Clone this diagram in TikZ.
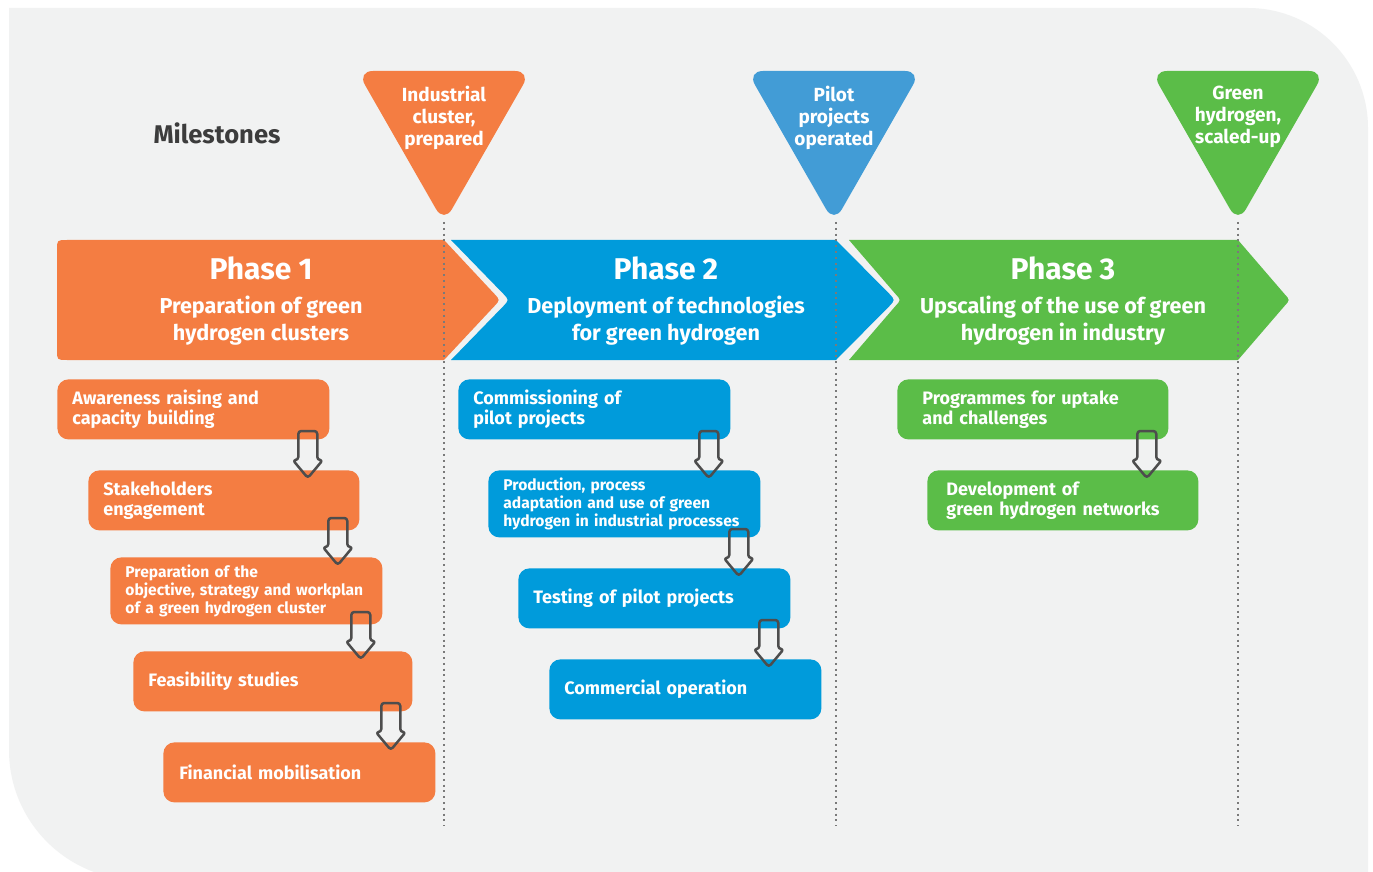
\documentclass[tikz,border=0pt]{standalone}
\usepackage{fontspec}
\setmainfont{Fira Sans}
\usetikzlibrary{calc}
\definecolor{bg}{HTML}{F1F2F2}
\definecolor{orng}{HTML}{F47D42}
\definecolor{blu}{HTML}{009BDB}
\definecolor{blum}{HTML}{429CD6}
\definecolor{grn}{HTML}{5BBD48}
\definecolor{dotc}{HTML}{7A7A7A}
\definecolor{arrc}{HTML}{4D4D4D}
\definecolor{darktxt}{HTML}{3C3C3C}
\newcommand\blkarrow[2]{%
  \begin{scope}[shift={($(#1.east |- #2.north)+(-22,8)$)}]
    \draw[blkarr] (-9.5,-47) -- (-9.5,-18) -- (-15,-18) -- (0,0) -- (15,-18) -- (9.5,-18) -- (9.5,-47) -- cycle;
  \end{scope}}
\begin{document}
\begin{tikzpicture}[x=0.5pt,y=-0.5pt,
  box/.style={rounded corners=5.5pt, anchor=north west, minimum height=30pt, text width=121pt,
    inner xsep=7.5pt, inner ysep=0pt, align=left, text=white,
    font=\bfseries\fontsize{9}{10}\selectfont},
  smallbox/.style={box, minimum height=33.5pt, font=\bfseries\fontsize{7.8}{9}\selectfont},
  phtitle/.style={text=white, font=\bfseries\fontsize{15}{18}\selectfont, inner sep=0pt},
  phsub/.style={text=white, align=center, font=\bfseries\fontsize{10.8}{13.5}\selectfont, inner sep=0pt},
  mtxt/.style={text=white, align=center, font=\bfseries\fontsize{9.5}{11}\selectfont, inner sep=0pt},
  dotline/.style={dotc, line width=1pt, dash pattern=on 1pt off 1.9pt},
  blkarr/.style={arrc, line width=1.25pt, rounded corners=1.5pt, line join=round}]
\useasboundingbox (0,0) rectangle (1373,872);
\fill[white] (0,0) rectangle (1373,872);
\begin{scope}
\clip (0,0) rectangle (1373,872);
\fill[bg] (9,8) -- (1248,8) .. controls (1314.3,8) and (1368,61.7) .. (1368,128)
  -- (1368,880) -- (139,880) .. controls (67.2,880) and (9,821.8) .. (9,750) -- cycle;
\end{scope}

% title
\node[text=darktxt, font=\bfseries\fontsize{12.8}{15}\selectfont, inner sep=0pt] (ms) at (217,133) {Milestones};

% milestone triangles
\fill[orng, rounded corners=8pt] (357,71) -- (531,71) -- (444,223) -- cycle;
\fill[blum, rounded corners=8pt] (747,71) -- (921,71) -- (834,223) -- cycle;
\fill[grn, rounded corners=8pt] (1151,71) -- (1325,71) -- (1238,223) -- cycle;
\node[mtxt] (m1) at (444,118) {Industrial\\cluster,\\prepared};
\node[mtxt] (m2) at (834,118) {Pilot\\projects\\operated};
\node[mtxt] (m3) at (1238,117) {Green\\hydrogen,\\scaled-up};

% phase chevrons
\fill[orng] (444,240) -- (494.5,294) .. controls (500,300) .. (494.5,306) -- (444,360)
  -- (67,360) .. controls (57,360) .. (57,350) -- (57,250) .. controls (57,240) .. (67,240) -- cycle;
\fill[blu] (451,240) -- (836,240) -- (889.5,294) .. controls (895,300) .. (889.5,306) -- (836,360)
  -- (451,360) -- (503.5,306) .. controls (509,300) .. (503.5,294) -- cycle;
\fill[grn] (849,240) -- (1238,240) -- (1284.5,294) .. controls (1290,300) .. (1284.5,306) -- (1238,360)
  -- (849,360) -- (895.5,306) .. controls (901,300) .. (895.5,294) -- cycle;

\node[phtitle] (p1) at (261,268) {Phase 1};
\node[phsub] (p1s) at (261,321) {Preparation of green\\hydrogen clusters};
\node[phtitle] (p2) at (666,268) {Phase 2};
\node[phsub] (p2s) at (666,321) {Deployment of technologies\\for green hydrogen};
\node[phtitle] (p3) at (1063,268) {Phase 3};
\node[phsub] (p3s) at (1063,321) {Upscaling of the use of green\\hydrogen in industry};

% phase 1 boxes
\node[box, fill=orng] (o1) at (57,379) {Awareness raising and\\capacity building};
\node[box, fill=orng, text width=120.5pt] (o2) at (88,470) {Stakeholders\\engagement};
\node[smallbox, fill=orng] (o3) at (110,557) {Preparation of the\\objective, strategy and workplan\\of a green hydrogen cluster};
\node[box, fill=orng, text width=124.5pt] (o4) at (133,651) {Feasibility studies};
\node[box, fill=orng, inner xsep=8pt, text width=120pt] (o5) at (163,742) {Financial mobilisation};

% phase 2 boxes
\node[box, fill=blu] (b1) at (458,379) {Commissioning of\\pilot projects};
\node[smallbox, fill=blu] (b2) at (488,470) {Production, process\\adaptation and use of green\\hydrogen in industrial processes};
\node[box, fill=blu] (b3) at (518,568) {Testing of pilot projects};
\node[box, fill=blu] (b4) at (549,659) {Commercial operation};

% phase 3 boxes
\node[box, fill=grn, inner xsep=12.5pt, text width=110.5pt] (g1) at (897,379) {Programmes for uptake\\and challenges};
\node[box, fill=grn, inner xsep=9.5pt, text width=116.5pt] (g2) at (927,470) {Development of\\green hydrogen networks};

% dotted lines
\coordinate (d1t) at (444,222); \coordinate (d1b) at (444,826);
\coordinate (d2t) at (836,222); \coordinate (d2b) at (836,826);
\coordinate (d3t) at (1238,222); \coordinate (d3b) at (1238,826);
\draw[dotline] (d1t) -- (d1b);
\draw[dotline] (d2t) -- (d2b);
\draw[dotline] (d3t) -- (d3b);

% block arrows
\blkarrow{o1}{o2}
\blkarrow{o2}{o3}
\blkarrow{o3}{o4}
\blkarrow{o4}{o5}
\blkarrow{b1}{b2}
\blkarrow{b2}{b3}
\blkarrow{b3}{b4}
\blkarrow{g1}{g2}
\end{tikzpicture}
\end{document}
